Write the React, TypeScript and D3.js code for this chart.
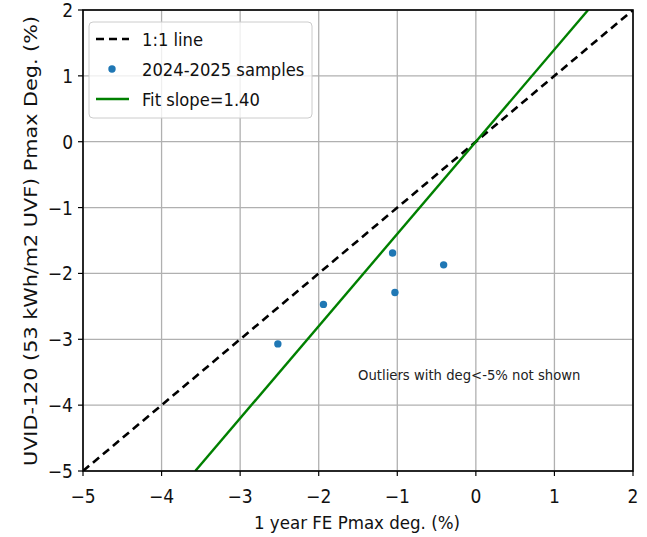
import React from "react";
import * as d3 from "d3";

const sampleX = [-2.52, -1.94, -1.06, -1.03, -0.41];
const sampleY = [-3.07, -2.47, -1.69, -2.29, -1.87];
const xTicks = [-5, -4, -3, -2, -1, 0, 1, 2];
const yTicks = [-5, -4, -3, -2, -1, 0, 1, 2];
const fitSlope = 1.4;
const fitIntercept = 0;
const legendLabels = ["1:1 line", "2024-2025 samples", "Fit slope=1.40"];
const xLabel = "1 year FE Pmax deg. (%)";
const yLabel = "UVID-120 (53 kWh/m2 UVF) Pmax Deg. (%)";
const note = "Outliers with deg<-5% not shown";

const W = 647, H = 537;
const M = { left: 83, right: 633, top: 10, bottom: 471 };
const FONT = "'DejaVu Sans Condensed', 'DejaVu Sans', sans-serif";

export default function App() {
  const x = d3.scaleLinear().domain([-5, 2]).range([M.left, M.right]);
  const y = d3.scaleLinear().domain([-5, 2]).range([M.bottom, M.top]);
  const line = d3.line<[number, number]>().x(d => x(d[0])).y(d => y(d[1]));
  const dom = x.domain();
  const oneToOne: [number, number][] = [[dom[0], dom[0]], [dom[1], dom[1]]];
  const fx0 = (-5 - fitIntercept) / fitSlope;
  const fx1 = (2 - fitIntercept) / fitSlope;
  const fitPts: [number, number][] = [[fx0, fitSlope * fx0 + fitIntercept], [fx1, fitSlope * fx1 + fitIntercept]];
  const fmt = (t: number) => (t < 0 ? "\u2212" + Math.abs(t) : String(t));

  return (
    <svg width={W} height={H} style={{ position: "absolute", left: 0, top: 0, background: "#fff" }} fontFamily={FONT}>
      <defs>
        <clipPath id="plot">
          <rect x={M.left} y={M.top} width={M.right - M.left} height={M.bottom - M.top} />
        </clipPath>
      </defs>
      {xTicks.map(t => (
        <line key={"gx" + t} x1={x(t)} x2={x(t)} y1={M.top} y2={M.bottom} stroke="#b0b0b0" strokeWidth={1.3} />
      ))}
      {yTicks.map(t => (
        <line key={"gy" + t} y1={y(t)} y2={y(t)} x1={M.left} x2={M.right} stroke="#b0b0b0" strokeWidth={1.3} />
      ))}
      <g clipPath="url(#plot)">
        <path d={line(oneToOne) || ""} stroke="#000" strokeWidth={2.6} strokeDasharray="8,5" fill="none" />
        <path d={line(fitPts) || ""} stroke="#008000" strokeWidth={2.4} fill="none" />
      </g>
      {sampleX.map((v, i) => (
        <circle key={i} cx={x(v)} cy={y(sampleY[i])} r={3.7} fill="#1f77b4" />
      ))}
      <text x={358} y={380} fontSize={14.7} fill="#222">{note}</text>
      <rect x={M.left} y={M.top} width={M.right - M.left} height={M.bottom - M.top} fill="none" stroke="#000" strokeWidth={1.6} />
      {xTicks.map(t => (
        <g key={"tx" + t}>
          <line x1={x(t)} x2={x(t)} y1={M.bottom} y2={M.bottom + 5} stroke="#000" strokeWidth={1.2} />
          <text x={x(t)} y={503} fontSize={19} textAnchor="middle" fill="#111">{fmt(t)}</text>
        </g>
      ))}
      {yTicks.map(t => (
        <g key={"ty" + t}>
          <line x1={M.left - 5} x2={M.left} y1={y(t)} y2={y(t)} stroke="#000" strokeWidth={1.2} />
          <text x={M.left - 10} y={y(t) + 7} fontSize={19} textAnchor="end" fill="#111">{fmt(t)}</text>
        </g>
      ))}
      <text x={357} y={529} fontSize={18.5} textAnchor="middle" fill="#111">{xLabel}</text>
      <text transform={`translate(37,241) rotate(-90)`} fontSize={18.5} textAnchor="middle" fill="#111"
        textLength={450} lengthAdjust="spacingAndGlyphs">{yLabel}</text>
      <rect x={89} y={22} width={223} height={96} rx={4} fill="#fff" fillOpacity={0.8} stroke="#ccc" strokeWidth={1} />
      <line x1={96} x2={129} y1={39} y2={39} stroke="#000" strokeWidth={2.6} strokeDasharray="8,5" />
      <circle cx={112} cy={69} r={3.7} fill="#1f77b4" />
      <line x1={96} x2={129} y1={99} y2={99} stroke="#008000" strokeWidth={2.4} />
      {legendLabels.map((l, i) => (
        <text key={l} x={142} y={46 + i * 30} fontSize={18.2} fill="#111">{l}</text>
      ))}
    </svg>
  );
}
